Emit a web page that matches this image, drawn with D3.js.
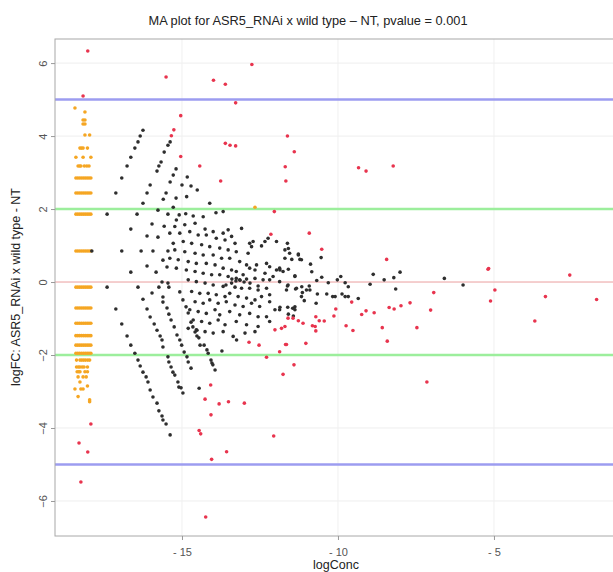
<!DOCTYPE html>
<html>
<head>
<meta charset="utf-8">
<script src="https://cdn.jsdelivr.net/npm/d3@7"></script>
<style>
	body { margin:0; background:#fff; }
	text { font-family: "Liberation Sans", Arial, sans-serif; }
</style>
</head>
<body>
<div id="chart"></div>
<script>
// values (logConc, logFC)
var blackPts = [
	// upper streaks
	[-17.89,0.85],[-17.40,1.86],[-17.12,2.44],[-16.93,2.85],[-16.76,3.18],[-16.64,3.42],[-16.51,3.67],[-16.41,3.84],[-16.34,4.00],[-16.25,4.16],
	[-16.93,0.85],[-16.64,1.45],[-16.44,1.86],[-16.25,2.16],[-16.12,2.44],[-16.02,2.66],[-15.80,3.04],[-15.74,3.18],[-15.67,3.29],[-15.57,3.56],[-15.45,3.75],[-15.38,3.84],
	[-16.31,0.85],[-16.12,1.26],[-15.96,1.59],[-15.77,1.97],[-15.60,2.27],[-15.51,2.44],[-15.38,2.74],[-15.28,2.93],[-15.19,3.10],
	[-15.93,0.85],[-15.77,1.23],[-15.57,1.53],[-15.45,1.86],[-15.28,2.05],[-15.19,2.30],[-15.00,2.66],[-14.83,2.88],
	[-14.71,2.63],[-14.51,2.52],[-14.85,2.34],
	// between streaks, near zero
	[-16.12,0.44],[-15.61,0.60],[-15.83,0.27],[-15.64,0.00],[-15.48,0.41],[-15.96,-0.30],[-15.61,-0.41],[-15.45,-0.03],[-15.45,0.85],[-16.64,0.27],[-15.42,-0.14],
	// core
	[-15.18,1.70],[-14.88,1.87],[-14.64,1.81],[-14.32,1.79],[-14.11,2.16],[-13.91,1.90],[-13.68,1.93],[-15.09,1.84],
	[-15.23,1.52],[-14.91,1.57],[-14.58,1.61],[-14.26,1.45],[-14.00,1.38],[-13.68,1.34],[-13.52,1.43],[-13.09,1.47],[-13.41,1.25],[-13.30,1.06],
	[-15.39,1.34],[-15.07,1.34],[-14.75,1.38],[-14.48,1.29],[-14.22,1.29],[-13.90,1.20],[-13.62,1.15],[-12.83,1.06],[-12.72,1.11],[-12.34,1.11],[-12.24,1.20],[-12.45,0.99],[-12.77,0.97],[-11.97,1.11],
	[-15.28,1.06],[-14.96,1.11],[-14.69,1.06],[-14.37,1.02],[-14.11,0.97],[-13.79,0.93],[-13.52,0.88],[-13.26,0.83],[-12.88,0.79],
	[-15.23,0.88],[-14.91,0.83],[-14.58,0.79],[-14.32,0.74],[-14.00,0.74],[-13.73,0.65],[-13.47,0.65],[-13.15,0.56],[-12.93,0.47],[-12.61,0.47],[-12.29,0.51],[-12.19,0.42],[-11.97,0.33],[-11.70,0.65],[-11.55,0.79],[-11.27,0.74],[-11.17,0.61],
	[-15.39,0.65],[-15.12,0.61],[-14.80,0.56],[-14.54,0.51],[-14.22,0.51],[-13.94,0.47],[-13.68,0.38],[-13.41,0.33],[-13.26,0.29],[-13.04,0.20],[-12.83,0.38],[-12.66,0.33],[-12.34,0.24],[-11.87,0.38],[-11.76,0.29],[-11.38,0.15],
	[-15.18,0.38],[-14.86,0.33],[-14.58,0.29],[-14.32,0.24],[-14.05,0.20],[-13.79,0.20],[-13.52,0.15],[-13.26,0.10],[-13.15,0.06],[-12.93,0.08],[-12.66,0.10],[-12.40,0.06],[-12.19,0.06],[-12.08,0.15],[-11.87,0.01],[-11.60,-0.08],
	[-14.80,0.06],[-14.54,0.01],[-14.26,-0.03],[-14.00,-0.08],[-13.68,-0.12],[-13.41,-0.03],[-13.30,-0.14],[-13.09,-0.17],[-12.83,-0.17],[-12.56,-0.22],[-12.29,-0.17],[-11.65,-0.22],[-11.33,-0.17],[-11.01,-0.22],
	[-14.69,-0.26],[-14.43,-0.31],[-14.16,-0.31],[-13.90,-0.35],[-13.62,-0.40],[-13.47,-0.31],[-13.20,-0.40],[-12.93,-0.44],[-12.66,-0.49],[-12.45,-0.40],[-12.19,-0.35],[-11.17,-0.40],
	[-14.58,-0.54],[-14.32,-0.58],[-14.11,-0.49],[-13.84,-0.58],[-13.58,-0.54],[-13.30,-0.63],[-13.04,-0.67],[-12.77,-0.58],[-12.51,-0.67],[-12.19,-0.54],[-12.02,-0.76],
	[-14.75,-0.76],[-14.48,-0.81],[-14.22,-0.86],[-13.94,-0.76],[-13.79,-0.90],[-13.47,-0.81],[-13.15,-0.90],[-12.83,-0.86],[-12.56,-0.95],[-12.29,-0.95],[-11.87,-0.76],[-11.38,-0.76],
	[-14.64,-1.04],[-14.37,-1.08],[-14.11,-1.13],[-13.84,-1.04],[-13.62,-1.17],[-13.26,-1.08],[-12.93,-1.17],[-12.56,-1.22],[-12.19,-1.08],
	[-14.80,-1.27],[-14.54,-1.31],[-14.26,-1.36],[-14.00,-1.40],[-13.68,-1.36],[-13.36,-1.49],[-12.98,-1.40],[-12.66,-1.36],
	// dense band on the zero line and the right edge of the core
	[-13.40,0.08],[-13.27,0.03],[-13.14,0.05],[-13.01,0.00],[-12.82,-0.03],[-13.59,-0.08],[-12.56,-0.11],
	[-11.70,0.88],[-11.62,1.06],[-11.59,0.92],[-11.48,0.62],[-11.27,0.77],[-11.22,0.62],[-11.86,0.33],[-11.59,0.35],[-11.38,0.17],
	[-11.62,-0.11],[-11.36,-0.19],[-11.16,-0.13],[-11.14,-0.29],[-10.92,-0.11],[-10.90,-0.22],[-11.08,-0.51],
	[-11.86,-0.69],[-11.61,-0.69],[-11.45,-0.72],[-11.38,-0.68],[-11.59,-0.88],[-11.43,-0.93],
	// lower streaks
	[-17.40,-0.14],[-17.12,-0.74],[-16.93,-1.15],[-16.76,-1.48],[-16.64,-1.73],[-16.51,-1.95],[-16.41,-2.14],[-16.34,-2.30],[-16.25,-2.47],[-16.15,-2.60],[-16.09,-2.74],[-16.02,-2.96],[-15.93,-3.15],[-15.80,-3.32],[-15.74,-3.53],[-15.64,-3.67],[-15.61,-3.78],[-15.51,-3.89],[-15.38,-4.19],
	[-16.41,-0.14],[-16.25,-0.47],[-16.12,-0.74],[-16.02,-0.96],[-15.89,-1.15],[-15.80,-1.32],[-15.70,-1.48],[-15.64,-1.59],[-15.61,-1.78],[-15.45,-2.05],[-15.42,-2.19],[-15.35,-2.33],[-15.29,-2.47],[-15.23,-2.55],[-15.13,-2.74],[-15.10,-2.88],[-15.03,-2.90],[-14.97,-3.04],
	[-15.74,-0.14],[-15.61,-0.55],[-15.48,-0.71],[-15.42,-0.88],[-15.35,-1.04],[-15.25,-1.23],[-15.16,-1.45],[-15.07,-1.59],[-15.01,-1.73],[-14.93,-1.92],[-14.84,-2.05],[-14.80,-2.19],[-14.71,-2.36],
	[-15.07,-0.27],[-14.97,-0.49],[-14.87,-0.68],[-14.80,-0.85],[-14.71,-1.10],[-14.65,-1.23],[-14.58,-1.37],[-14.52,-1.48],[-14.42,-1.73],
	[-14.52,-1.32],[-14.46,-1.53],[-14.29,-1.73],[-14.20,-1.86],[-14.07,-2.14],[-14.01,-2.27],[-13.94,-2.41],
	[-13.25,-1.59],[-13.72,-1.89],[-14.16,-1.95],[-14.04,-2.22],[-14.45,-2.91],
	// right side
	[-10.88,0.49],[-10.84,0.28],[-10.54,0.67],[-10.52,0.13],[-10.68,0.04],[-10.66,-0.33],[-10.70,-0.58],[-10.31,-0.02],[-10.36,-0.33],[-10.17,-0.40],[-10.09,-0.40],
	[-10.02,0.06],[-9.91,0.15],[-9.87,-0.33],[-9.77,-0.02],[-9.77,-0.40],[-9.67,-0.13],[-9.67,-0.40],[-9.35,-0.45],[-8.97,-0.06],[-8.87,0.21],
	[-8.52,0.06],[-8.21,0.12],[-8.01,0.27],[-8.15,-0.19],[-6.59,0.10],[-5.99,-0.08]
];

var redPts = [
	[-18.02,6.33],[-18.17,5.10],[-17.92,-3.89],[-18.30,-4.41],[-18.02,-4.66],[-18.24,-5.48],
	[-15.51,5.62],[-12.76,5.96],[-13.99,5.53],[-13.61,5.42],[-13.28,4.91],[-15.04,4.56],[-15.26,4.17],[-15.34,4.01],[-15.04,3.44],[-14.43,3.18],
	[-13.61,3.80],[-13.46,3.75],[-13.28,3.73],[-13.76,2.77],[-11.62,4.00],[-11.40,3.57],[-11.69,3.16],[-11.67,2.77],[-9.34,3.13],[-9.10,3.04],[-8.23,3.18],
	[-12.04,1.93],[-12.15,1.31],[-10.92,1.34],
	[-11.60,-0.99],[-11.44,-0.99],[-11.27,-1.06],[-11.12,-1.13],[-12.02,-1.31],[-11.81,-1.27],[-11.70,-1.22],
	[-12.85,-1.65],[-12.53,-1.73],[-12.29,-2.06],[-11.87,-1.91],[-11.68,-1.71],[-11.41,-2.27],[-11.76,-2.53],
	[-14.08,-2.82],[-14.26,-3.21],[-13.81,-3.34],[-13.51,-3.28],[-13.00,-3.32],[-14.07,-3.64],[-14.45,-4.07],[-14.40,-4.16],[-12.06,-4.22],[-13.57,-4.65],[-14.05,-4.86],[-14.24,-6.44],
	[-10.52,0.90],[-8.44,0.62],[-6.93,-0.29],[-7.69,-0.57],[-7.03,-0.77],[-8.36,-0.70],[-8.20,-0.74],[-7.98,-0.65],[-8.84,-0.84],[-9.10,-0.79],[-9.24,-0.89],[-9.56,-0.55],
	[-10.07,-0.74],[-10.13,-0.93],[-10.44,-1.07],[-10.60,-1.06],[-10.71,-0.95],[-10.73,-1.22],[-10.82,-1.20],[-10.71,-1.34],[-9.74,-1.20],[-9.52,-1.33],[-8.58,-1.25],[-7.47,-1.25],
	[-8.42,-1.62],[-11.03,-1.68],[-11.65,-1.71],
	[-5.19,0.35],[-5.17,0.37],[-4.97,-0.22],[-5.11,-0.52],[-3.69,-1.07],[-3.35,-0.40],[-2.57,0.19],[-1.71,-0.48],[-7.15,-2.74]
];

// orange column: low count genes, stacked at a few logFC levels into solid bars
var orangeLevels = [2.85,2.44,1.86,0.85,-0.14,-0.71,-1.13,-1.47,-1.73,-1.95];
var orangeLevelX = [-18.40,-18.34,-18.28,-18.22,-18.16,-18.10,-18.04,-17.98,-17.92];
var orangePts = [
	[-18.43,4.77],[-18.11,4.66],[-18.17,4.44],[-18.11,4.44],[-18.17,4.33],[-18.11,4.33],[-18.11,4.03],[-17.96,4.03],
	[-18.27,3.67],[-18.22,3.67],[-18.17,3.67],[-18.03,3.67],[-18.40,3.42],[-18.17,3.42],[-17.92,3.42],
	[-18.33,3.18],[-18.28,3.18],[-18.24,3.18],[-18.13,3.18],[-18.05,3.18],[-17.98,3.18],
	[-18.38,-2.14],[-18.27,-2.14],[-18.21,-2.14],[-18.15,-2.14],[-18.09,-2.14],[-18.02,-2.14],[-17.96,-2.14],
	[-18.38,-2.33],[-18.32,-2.33],[-18.27,-2.33],[-18.20,-2.33],[-18.14,-2.33],[-18.03,-2.33],
	[-18.36,-2.46],[-18.31,-2.46],[-18.27,-2.46],[-18.11,-2.46],[-18.03,-2.46],
	[-18.33,-2.60],[-18.17,-2.60],[-18.07,-2.60],[-18.27,-2.74],
	[-18.43,-2.93],[-18.24,-2.93],[-18.17,-2.93],[-18.03,-2.85],
	[-18.33,-3.14],[-17.96,-3.23],[-17.96,-3.28],
	[-12.66,2.05]
];

var xTicks = [-15,-10,-5];
var yTicks = [-6,-4,-2,0,2,4,6];
var cutLines = [
	{y:5, color:"#9c9cf0", w:2.5},
	{y:-5, color:"#9c9cf0", w:2.5},
	{y:2, color:"#9cee9c", w:2.5},
	{y:-2, color:"#9cee9c", w:2.5},
	{y:0, color:"#f2a6a6", w:1}
];

var svg_width=613, svg_height=572,
	pan_left=55, pan_right=620, pan_top=39, pan_bottom=536;

orangeLevels.forEach(function (lv) {
	orangeLevelX.forEach(function (xv) { orangePts.push([xv, lv]); });
});

var x = d3.scaleLinear().domain([-19.07, -0.96]).range([pan_left, pan_right]);
var y = d3.scaleLinear().domain([-6.96, 6.66]).range([pan_bottom, pan_top]);

var svg = d3.select("#chart").append("svg")
	.attr("width", svg_width)
	.attr("height", svg_height);

// grid
svg.append("g").selectAll("line")
	.data(yTicks).enter().append("line")
	.attr("x1", pan_left).attr("x2", pan_right)
	.attr("y1", function (d) { return y(d); })
	.attr("y2", function (d) { return y(d); })
	.attr("stroke", "#eeeeee").attr("stroke-width", 1);

svg.append("g").selectAll("line")
	.data(xTicks).enter().append("line")
	.attr("y1", pan_top).attr("y2", pan_bottom)
	.attr("x1", function (d) { return x(d); })
	.attr("x2", function (d) { return x(d); })
	.attr("stroke", "#f0f0f0").attr("stroke-width", 1);

// cutoff lines
svg.append("g").selectAll("line")
	.data(cutLines).enter().append("line")
	.attr("x1", pan_left).attr("x2", pan_right)
	.attr("y1", function (d) { return y(d.y); })
	.attr("y2", function (d) { return y(d.y); })
	.attr("stroke", function (d) { return d.color; })
	.attr("stroke-width", function (d) { return d.w; });

function drawPts(data, color) {
	svg.append("g").selectAll("circle")
		.data(data).enter().append("circle")
		.attr("cx", function (d) { return x(d[0]); })
		.attr("cy", function (d) { return y(d[1]); })
		.attr("r", 1.8)
		.attr("fill", color);
}
drawPts(orangePts, "#f5a623");
drawPts(blackPts, "#2e2e2e");
drawPts(redPts, "#e8344e");

// panel border
svg.append("rect")
	.attr("x", pan_left).attr("y", pan_top)
	.attr("width", pan_right-pan_left).attr("height", pan_bottom-pan_top)
	.attr("fill", "none").attr("stroke", "#a8a8a8").attr("stroke-width", 1);

// axes
var xAxis = svg.append("g")
	.attr("transform", "translate(0," + pan_bottom + ")")
	.call(d3.axisBottom(x).tickValues(xTicks).tickSize(4).tickPadding(8)
		.tickFormat(function (d) { return d < 0 ? "- " + Math.abs(d) : d; }));
xAxis.select(".domain").remove();
xAxis.selectAll("line").attr("stroke", "#999");
xAxis.selectAll("text").attr("fill", "#555").style("font-size", "11px");

var yAxis = svg.append("g")
	.attr("transform", "translate(" + pan_left + ",0)")
	.call(d3.axisLeft(y).tickValues(yTicks).tickSize(4));
yAxis.select(".domain").remove();
yAxis.selectAll("line").attr("stroke", "#999");
yAxis.selectAll("text")
	.attr("transform", "rotate(-90)")
	.attr("x", 0).attr("y", -8).attr("dy", 0)
	.style("text-anchor", "middle")
	.attr("fill", "#555").style("font-size", "11px");

// titles
svg.append("text")
	.attr("x", 308).attr("y", 25)
	.attr("text-anchor", "middle")
	.style("font-size", "12.8px").attr("fill", "#222")
	.text("MA plot for ASR5_RNAi x wild type \u2013 NT, pvalue = 0.001");

svg.append("text")
	.attr("x", 336).attr("y", 569)
	.attr("text-anchor", "middle")
	.style("font-size", "12.5px").attr("fill", "#222")
	.text("logConc");

svg.append("text")
	.attr("transform", "translate(20,287) rotate(-90)")
	.attr("text-anchor", "middle")
	.style("font-size", "12.5px").attr("fill", "#222")
	.text("logFC: ASR5_RNAi x wild type - NT");
</script>
</body>
</html>
